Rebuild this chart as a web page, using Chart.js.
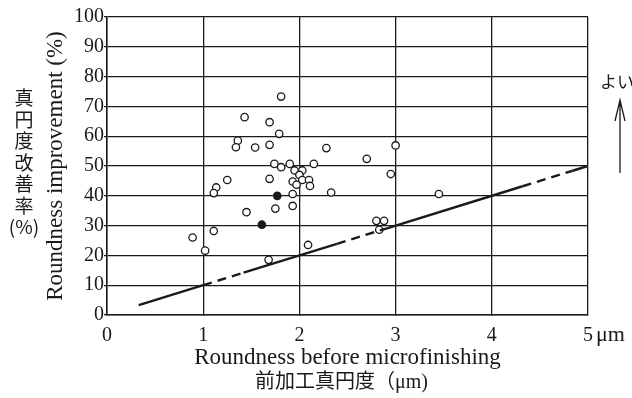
<!DOCTYPE html>
<html lang="ja">
<head>
<meta charset="UTF-8">
<title>Roundness improvement</title>
<script src="https://cdn.jsdelivr.net/npm/chart.js"></script>
<style>
  body { margin: 0; background: #fff; }
  #wrap { width: 632px; height: 398px; }
</style>
</head>
<body>
<div id="wrap"><canvas id="chart" width="632" height="398"></canvas></div>
<script>
// open circles: roundness before (um) / improvement (%)
const openX = [1.81, 1.43, 1.69, 1.79, 1.36, 1.34, 1.54, 1.69, 1.74, 1.81, 1.90, 1.69, 1.25, 1.135,
               1.11, 1.93, 1.45, 1.75, 1.93, 1.11, 0.89, 1.02, 1.68, 2.28, 2.15, 1.95, 2.03, 2.00,
               1.93, 2.03, 2.10, 1.97, 2.11, 2.33, 3.00, 2.70, 2.95, 3.45, 2.80, 2.88, 2.83, 2.09];
const openY = [73.3, 66.4, 64.7, 60.8, 58.5, 56.3, 56.2, 57.1, 50.7, 49.6, 50.7, 45.7, 45.3, 42.8,
               40.9, 40.6, 34.5, 35.7, 36.6, 28.2, 26.0, 21.6, 18.5, 56.0, 50.7, 48.5, 48.5, 47.0,
               44.8, 45.3, 45.3, 43.7, 43.3, 41.1, 56.9, 52.4, 47.3, 40.6, 31.6, 31.6, 28.6, 23.5];
// filled circles
const filledX = [1.77, 1.61];
const filledY = [40.0, 30.3];
// reference line, partly dashed
const lineX = [0.33, 1, 1.42, 2.39, 2.91, 4.32, 4.84, 5];
const lineY = [3.3, 10, 14.2, 23.9, 29.1, 43.2, 48.4, 50];
const lineDashed = [false, true, false, true, false, true, false];

const xTicks = [0, 1, 2, 3, 4, 5];
const yTicks = [0, 10, 20, 30, 40, 50, 60, 70, 80, 90, 100];

const ink = '#1a1a1a';
const serif = "'Liberation Serif', 'DejaVu Serif', serif";
const jp = "'Noto Sans CJK JP', sans-serif";

const toPts = (xs, ys) => xs.map((x, i) => ({ x: x, y: ys[i] }));

const extras = {
  id: 'extras',
  afterDraw(chart) {
    const { ctx, scales: { x }, chartArea } = chart;
    ctx.save();
    ctx.fillStyle = ink;
    ctx.strokeStyle = ink;
    // unit after last x tick
    ctx.font = '22px ' + serif;
    ctx.textAlign = 'left';
    ctx.textBaseline = 'middle';
    ctx.fillText('\u03bcm', x.getPixelForValue(5) + 8, 335);
    // Japanese x title line
    ctx.textAlign = 'center';
    ctx.font = '20px ' + serif + ", 'Noto Sans CJK JP'";
    ctx.fillText('前加工真円度（\u03bcm)', (chartArea.left + chartArea.right) / 2 - 6, 383);
    // vertical Japanese axis label
    ctx.font = '19px ' + jp;
    const chars = ['真', '円', '度', '改', '善', '率', '(%)'];
    chars.forEach((c, i) => ctx.fillText(c, 24, 98 + i * 21.5));
    // "better" arrow on the right
    ctx.font = '17px ' + jp;
    ctx.fillText('よい', 617, 82);
    ctx.lineWidth = 1.3;
    ctx.beginPath();
    ctx.moveTo(620, 173);
    ctx.lineTo(620, 101);
    ctx.moveTo(615, 121);
    ctx.lineTo(620, 100);
    ctx.lineTo(625, 121);
    ctx.stroke();
    ctx.restore();
  }
};

new Chart(document.getElementById('chart'), {
  type: 'scatter',
  data: {
    datasets: [
      {
        label: 'line',
        data: toPts(lineX, lineY),
        showLine: true,
        borderColor: ink,
        borderWidth: 2.4,
        pointRadius: 0,
        segment: {
          borderDash: c => lineDashed[c.p0DataIndex] ? [9, 6] : undefined
        }
      },
      {
        label: 'open',
        data: toPts(openX, openY),
        backgroundColor: '#fff',
        borderColor: ink,
        borderWidth: 1.3,
        pointRadius: 3.7
      },
      {
        label: 'filled',
        data: toPts(filledX, filledY),
        backgroundColor: ink,
        borderColor: ink,
        borderWidth: 1.3,
        pointRadius: 3.7
      }
    ]
  },
  options: {
    responsive: false,
    animation: false,
    layout: { padding: { left: 0, top: 17, right: 44, bottom: 0 } },
    plugins: { legend: { display: false }, tooltip: { enabled: false } },
    scales: {
      x: {
        type: 'linear',
        min: 0,
        max: 5,
        afterBuildTicks: s => { s.ticks = xTicks.map(v => ({ value: v })); },
        afterFit: s => { s.height = 83; },
        grid: { color: ink, lineWidth: 1.3, tickLength: 0 },
        border: { color: ink, width: 1.5 },
        ticks: { color: ink, font: { family: serif, size: 20 }, padding: 9 },
        title: {
          display: true,
          text: 'Roundness before microfinishing',
          color: ink,
          font: { family: serif, size: 23, lineHeight: 1.1 },
          padding: { top: 0, bottom: 27 }
        }
      },
      y: {
        type: 'linear',
        min: 0,
        max: 100,
        afterBuildTicks: s => { s.ticks = yTicks.map(v => ({ value: v })); },
        afterFit: s => { s.width = 107; },
        grid: { color: ink, lineWidth: 1.3, tickLength: 3 },
        border: { color: ink, width: 1.5 },
        ticks: { color: ink, font: { family: serif, size: 20 }, padding: 0 },
        title: {
          display: true,
          text: 'Roundness improvement (%)',
          color: ink,
          font: { family: serif, size: 23, lineHeight: 1.2 },
          padding: { top: 42, bottom: 0 }
        }
      }
    }
  },
  plugins: [extras]
});
</script>
</body>
</html>
